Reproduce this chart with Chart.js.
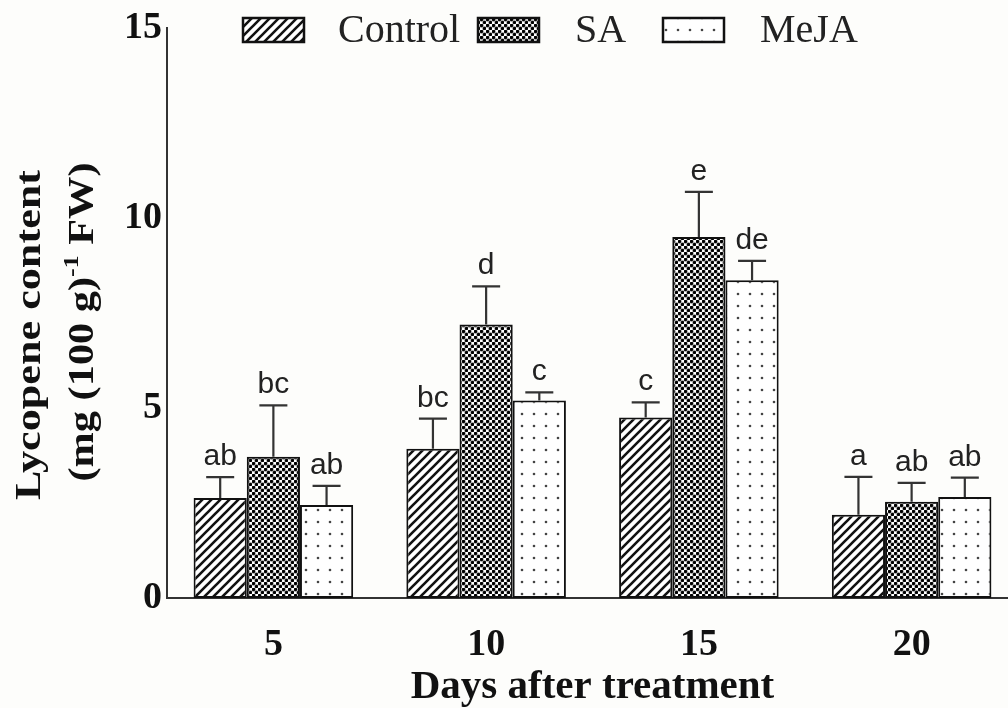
<!DOCTYPE html>
<html>
<head>
<meta charset="utf-8">
<script src="https://cdn.jsdelivr.net/npm/chart.js@4.4.0/dist/chart.umd.min.js"></script>
<style>
  html, body { margin: 0; padding: 0; background: #fdfdfb; overflow: hidden; }
  #wrap { width: 1024px; height: 708px; }
</style>
</head>
<body>
<div id="wrap"><canvas id="chart" width="1024" height="708"></canvas></div>
<script>
// values (mean + upper error, letters = significance groups)
const days = ['5', '10', '15', '20'];
const seriesNames = ['Control', 'SA', 'MeJA'];
const controlMean = [2.63, 3.93, 4.75, 2.19];
const controlErr = [0.55, 0.79, 0.40, 1.00];
const saMean = [3.72, 7.20, 9.50, 2.53];
const saErr = [1.35, 1.00, 1.19, 0.50];
const mejaMean = [2.45, 5.20, 8.36, 2.66];
const mejaErr = [0.50, 0.21, 0.51, 0.51];
const controlLetters = ['ab', 'bc', 'c', 'a'];
const saLetters = ['bc', 'd', 'e', 'ab'];
const mejaLetters = ['ab', 'c', 'de', 'ab'];
const yTicks = [0, 5, 10, 15];

const canvas = document.getElementById('chart');
const mainCtx = canvas.getContext('2d');

function makePattern(size, draw) {
    const c = document.createElement('canvas');
    c.width = size;
    c.height = size;
    const g = c.getContext('2d');
    g.fillStyle = '#fff';
    g.fillRect(0, 0, size, size);
    draw(g, size);
    return mainCtx.createPattern(c, 'repeat');
}

// diagonal hatch for Control
const hatch = makePattern(9, (g, s) => {
    g.strokeStyle = '#111';
    g.lineWidth = 2.6;
    g.beginPath();
    g.moveTo(-2, s + 2); g.lineTo(s + 2, -2);
    g.moveTo(-2, 2); g.lineTo(2, -2);
    g.moveTo(s - 2, s + 2); g.lineTo(s + 2, s - 2);
    g.stroke();
});

// dense checker dots for SA
const checker = makePattern(6, (g) => {
    g.fillStyle = '#888';
    g.fillRect(0, 2.6, 6, 0.8);
    g.fillRect(2.6, 0, 0.8, 6);
    g.fillStyle = '#000';
    g.beginPath();
    g.arc(1.5, 1.5, 1.7, 0, Math.PI * 2);
    g.arc(4.5, 4.5, 1.7, 0, Math.PI * 2);
    g.fill();
});

// sparse dots for MeJA
const sparse = makePattern(12, (g) => {
    g.fillStyle = '#444';
    g.beginPath();
    g.arc(6, 6, 1.3, 0, Math.PI * 2);
    g.fill();
});

// error bars + letters
const errorBars = {
    id: 'errorBars',
    afterDatasetsDraw(chart) {
        const ctx = chart.ctx;
        const y = chart.scales.y;
        chart.data.datasets.forEach((ds, i) => {
            const meta = chart.getDatasetMeta(i);
            meta.data.forEach((bar, j) => {
                const top = y.getPixelForValue(ds.data[j] + ds.errors[j]);
                ctx.save();
                ctx.strokeStyle = '#333';
                ctx.lineWidth = 2.2;
                ctx.beginPath();
                ctx.moveTo(bar.x, bar.y);
                ctx.lineTo(bar.x, top);
                ctx.moveTo(bar.x - 14, top);
                ctx.lineTo(bar.x + 14, top);
                ctx.stroke();
                ctx.fillStyle = '#222';
                ctx.font = '30px "Liberation Sans", Arial, sans-serif';
                ctx.textAlign = 'center';
                ctx.textBaseline = 'alphabetic';
                ctx.fillText(ds.letters[j], bar.x, top - 12);
                ctx.restore();
            });
        });
    }
};

// legend across the top
const topLegend = {
    id: 'topLegend',
    afterDraw(chart) {
        const ctx = chart.ctx;
        const boxX = [243, 478, 663];
        const textX = [338, 575, 760];
        ctx.save();
        chart.data.datasets.forEach((ds, i) => {
            ctx.fillStyle = ds.backgroundColor;
            ctx.fillRect(boxX[i], 18, 61, 24);
            ctx.strokeStyle = '#111';
            ctx.lineWidth = 2.5;
            ctx.strokeRect(boxX[i], 18, 61, 24);
            ctx.fillStyle = '#222';
            ctx.font = '40px "Liberation Serif", serif';
            ctx.textAlign = 'left';
            ctx.textBaseline = 'middle';
            ctx.fillText(ds.label, textX[i], 31);
        });
        ctx.restore();
    }
};

// two-line rotated y title with superscript, stretched along its length
function drawRotated(ctx, parts, baseX, centerY, length) {
    let total = 0;
    parts.forEach(p => {
        ctx.font = 'bold ' + p.size + 'px "Liberation Serif", serif';
        p.w = ctx.measureText(p.t).width;
        total += p.w;
    });
    ctx.save();
    ctx.translate(baseX, centerY);
    ctx.rotate(-Math.PI / 2);
    ctx.scale(length / total, 1);
    let x = -total / 2;
    parts.forEach(p => {
        ctx.font = 'bold ' + p.size + 'px "Liberation Serif", serif';
        ctx.fillText(p.t, x, -(p.rise || 0));
        x += p.w;
    });
    ctx.restore();
}

const yTitle = {
    id: 'yTitle',
    afterDraw(chart) {
        const ctx = chart.ctx;
        ctx.save();
        ctx.fillStyle = '#111';
        ctx.textAlign = 'left';
        ctx.textBaseline = 'alphabetic';
        drawRotated(ctx, [{ t: 'Lycopene content', size: 36 }], 40, 335, 330);
        drawRotated(ctx, [
            { t: '(mg (100 g)', size: 36 },
            { t: '-1', size: 22, rise: 15 },
            { t: ' FW)', size: 36 }
        ], 93, 322, 319);
        ctx.restore();
    }
};

const serifBold = (size) => ({ family: "'Liberation Serif', 'Times New Roman', serif", size: size, weight: 'bold', lineHeight: 1 });

new Chart(canvas, {
    type: 'bar',
    data: {
        labels: days,
        datasets: [
            { label: seriesNames[0], data: controlMean, errors: controlErr, letters: controlLetters, backgroundColor: hatch },
            { label: seriesNames[1], data: saMean, errors: saErr, letters: saLetters, backgroundColor: checker },
            { label: seriesNames[2], data: mejaMean, errors: mejaErr, letters: mejaLetters, backgroundColor: sparse }
        ].map(d => Object.assign(d, {
            borderColor: '#111',
            borderWidth: 2,
            borderSkipped: false,
            barPercentage: 1.0,
            categoryPercentage: 0.75
        }))
    },
    options: {
        responsive: false,
        animation: false,
        layout: { padding: { top: 28, right: 6, left: 0, bottom: 0 } },
        plugins: {
            legend: { display: false },
            tooltip: { enabled: false }
        },
        scales: {
            x: {
                grid: { display: false, drawTicks: false },
                border: { display: true, color: '#333', width: 2 },
                ticks: { font: serifBold(38), color: '#111', padding: 28 },
                title: {
                    display: true,
                    text: 'Days after treatment',
                    font: serifBold(41),
                    color: '#111',
                    padding: { top: 0, bottom: 0 }
                },
                afterFit: (s) => { s.height = 110; }
            },
            y: {
                min: 0,
                max: 15,
                afterBuildTicks: (s) => { s.ticks = yTicks.map(v => ({ value: v })); },
                grid: { display: false, drawTicks: false },
                border: { display: true, color: '#333', width: 2 },
                ticks: { font: serifBold(38), color: '#111', padding: 5 },
                afterFit: (s) => { s.width = 167; }
            }
        }
    },
    plugins: [errorBars, topLegend, yTitle]
});
</script>
</body>
</html>
